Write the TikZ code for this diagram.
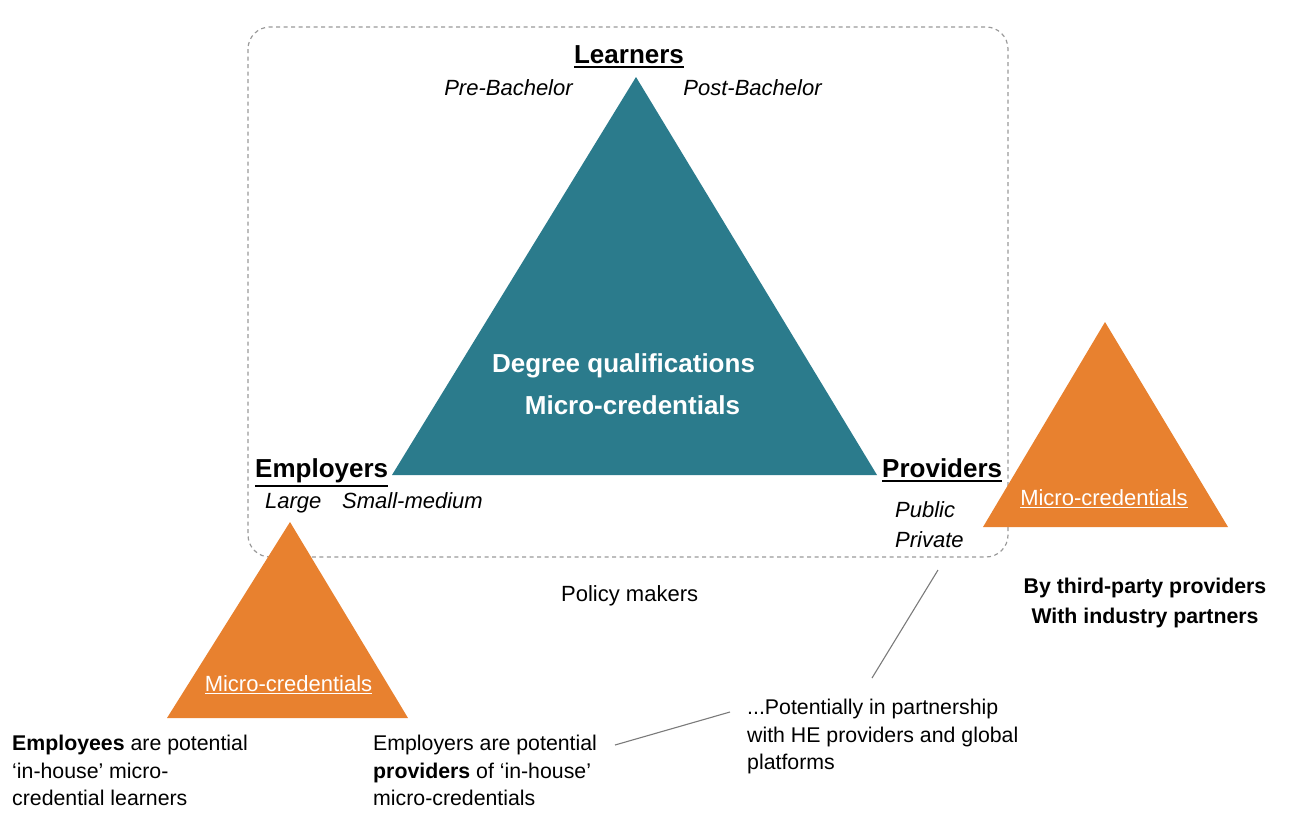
\documentclass[tikz,border=0pt]{standalone}
\usepackage{fontspec}
\setmainfont{Liberation Sans}
\definecolor{teal0}{HTML}{2B7B8C}
\definecolor{orange0}{HTML}{E8812F}
\definecolor{dashgray}{HTML}{9A9A9A}
\definecolor{linegray}{HTML}{7A7A7A}
\newcommand\hdrul[1]{\vtop{\hbox{#1}\kern2.5pt\hrule height1.8pt}}
\newcommand\triul[1]{\vtop{\hbox{#1}\kern1.8pt\hrule height0.9pt}}
\begin{document}
\begin{tikzpicture}[x=1pt,y=-1pt,
  hdr/.style={font=\fontsize{26}{30}\selectfont\bfseries,inner sep=0pt,anchor=base},
  sub/.style={font=\fontsize{22}{30}\selectfont\itshape,inner sep=0pt,anchor=base west},
  body/.style={font=\fontsize{21.3}{27.5}\selectfont,inner sep=0pt,align=left,anchor=north west},
  bigwhite/.style={font=\fontsize{26}{30}\selectfont\bfseries,text=white,inner sep=0pt,anchor=base},
  miniwhite/.style={font=\fontsize{22}{26}\selectfont,text=white,inner sep=0pt,anchor=base},
  conn/.style={draw=linegray,line width=1.1pt},
  stakebox/.style={draw=dashgray,line width=1.2pt,dash pattern=on 4pt off 3.5pt,rounded corners=22pt}
]
\useasboundingbox (0,0) rectangle (1308,814);
% dashed stakeholder box
\draw[stakebox] (248,27) rectangle (1008,557);
% triangles
\fill[teal0] (636,77) -- (877,475) -- (392,475) -- cycle;
\fill[orange0] (290,522) -- (408,718) -- (167,718) -- cycle;
\fill[orange0] (1105,322) -- (1228,527) -- (983,527) -- cycle;
% headers
\node[hdr] (learners) at (629,63) {\hdrul{Learners}};
\node[hdr,anchor=base west] (employers) at (255,477) {\hdrul{Employers}};
\node[hdr,anchor=base west] (providers) at (882,477) {\hdrul{Providers}};
% sub labels
\node[sub,anchor=base] (pre) at (508.5,95) {Pre-Bachelor};
\node[sub,anchor=base] (post) at (752.5,95) {Post-Bachelor};
\node[sub] (large) at (265,508) {Large};
\node[sub] (sme) at (342,508) {Small-medium};
\node[sub] (public) at (895,517) {Public};
\node[sub] (private) at (895,547) {Private};
% triangle texts
\node[bigwhite] (degree) at (623.5,372) {Degree qualifications};
\node[bigwhite] (mcmain) at (632.5,414) {Micro-credentials};
\node[miniwhite] (mcleft) at (288.5,691) {\triul{Micro-credentials}};
\node[miniwhite] (mcright) at (1104,505) {\triul{Micro-credentials}};
% other texts
\node[font=\fontsize{22}{27}\selectfont,inner sep=0pt,anchor=base west] (policy) at (561,601) {Policy makers};
\node[font=\fontsize{21.3}{30}\selectfont\bfseries,inner sep=0pt,align=center,anchor=north] (third) at (1145,578) {By third-party providers\\With industry partners};
\node[body] (employees) at (12,735) {\textbf{Employees} are potential\\‘in-house’ micro-\\credential learners};
\node[body] (emptext) at (373,735) {Employers are potential\\\textbf{providers} of ‘in-house’\\micro-credentials};
\node[body] (ptxt) at (747,699) {...Potentially in partnership\\with HE providers and global\\platforms};
% connectors
\coordinate (ps) at (938,570);
\coordinate (pe) at (872,678);
\coordinate (es) at (615,745);
\coordinate (ee) at (730,712);
\draw[conn] (ps) -- (pe);
\draw[conn] (es) -- (ee);
\end{tikzpicture}
\end{document}
